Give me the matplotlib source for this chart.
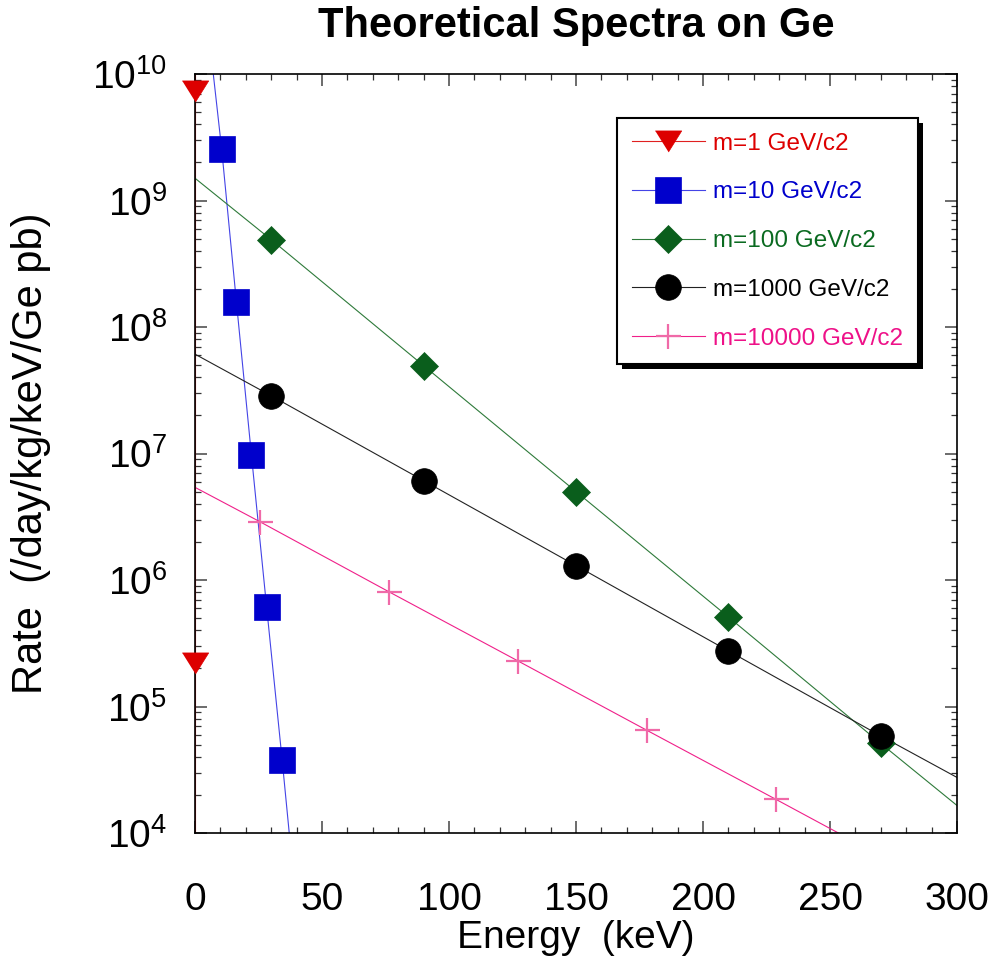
import math

import matplotlib
matplotlib.use("Agg")  # no display
import matplotlib.pyplot as plt
from matplotlib.lines import Line2D
from matplotlib.patches import Rectangle
from matplotlib.ticker import MultipleLocator, LogLocator, FuncFormatter, NullFormatter
from matplotlib.transforms import IdentityTransform

plt.rcParams["font.family"] = ["Liberation Sans", "DejaVu Sans"]
plt.rcParams["mathtext.fontset"] = "custom"
plt.rcParams["mathtext.rm"] = "Liberation Sans"
plt.rcParams["mathtext.it"] = "Liberation Sans:italic"
plt.rcParams["mathtext.bf"] = "Liberation Sans:bold"

# Energy (keV) / rate values.
# first and last entries are where each line leaves the frame (no marker there)
E_m1 = [0.0, 0.0, 0.0, 0.0]
rate_m1 = [2e10, 7.4e9, 2.2e5, 5e3]

E_m10 = [7.2, 10.5, 16.3, 22.2, 28.2, 34.3, 37.1]
rate_m10 = [1e10, 2.55e9, 1.58e8, 9.8e6, 6.1e5, 3.8e4, 1e4]

E_m100 = [0, 30, 90, 150, 210, 270, 300]
rate_m100 = [1.5e9, 4.9e8, 4.95e7, 5.0e6, 5.1e5, 5.1e4, 1.65e4]

E_m1000 = [0, 30, 90, 150, 210, 270, 300]
rate_m1000 = [6.1e7, 2.86e7, 6.1e6, 1.3e6, 2.75e5, 5.85e4, 2.75e4]

E_m10000 = [0, 25.4, 76.2, 127.0, 177.8, 228.6, 253.3]
rate_m10000 = [5.4e6, 2.9e6, 8.1e5, 2.3e5, 6.5e4, 1.85e4, 1.0e4]

labels = ["m=1 GeV/c2", "m=10 GeV/c2", "m=100 GeV/c2", "m=1000 GeV/c2", "m=10000 GeV/c2"]
xticks = [0, 50, 100, 150, 200, 250, 300]

TRI = [(-1, 0.8), (1, 0.8), (0, -0.8)]  # flat triangle pointing down

# (E, rate, line colour, marker, marker size, marker colour, text colour)
series = [
    (E_m1, rate_m1, "#e02020", TRI, 19, "#dd0000", "#dd0000"),
    (E_m10, rate_m10, "#4444e6", "s", 18.5, "#0000cc", "#0000cc"),
    (E_m100, rate_m100, "#2e7a3a", "D", 14.5, "#0a5e1c", "#0a6a20"),
    (E_m1000, rate_m1000, "#222222", "o", 18.5, "#000000", "#000000"),
    (E_m10000, rate_m10000, "#f0208a", "+", 18, "#f06aa8", "#ee1188"),
]

fig = plt.figure(figsize=(9.96, 9.67), dpi=100)
ax = fig.add_axes([195 / 996, 1 - 833 / 967, 762 / 996, 759 / 967])

handles = []
for E, r, lc, mk, ms, mc, tc in series:
    mew = 1.6 if mk == "+" else 0.5
    # line, clipped to the frame
    ax.plot(E, r, color=lc, lw=0.8)
    # markers, not clipped (the m=1 ones sit on the left edge)
    ax.plot(E[1:-1], r[1:-1], ls="none", marker=mk, markersize=ms,
            markerfacecolor=mc, markeredgecolor=mc, markeredgewidth=mew,
            clip_on=False, zorder=3)
    handles.append(Line2D([], [], color=lc, lw=0.8, marker=mk, markersize=ms,
                          markerfacecolor=mc, markeredgecolor=mc, markeredgewidth=mew))

ax.set_yscale("log")
ax.set_xlim(0, 300)
ax.set_ylim(1e4, 1e10)

ax.set_xticks(xticks)
ax.xaxis.set_minor_locator(MultipleLocator(10))
ax.yaxis.set_major_locator(LogLocator(base=10))
ax.yaxis.set_minor_locator(LogLocator(base=10, subs=range(2, 10)))
ax.yaxis.set_minor_formatter(NullFormatter())
ax.yaxis.set_major_formatter(FuncFormatter(
    lambda v, p: r"$\mathregular{10^{%d}}$" % round(math.log10(v))))

ax.tick_params(which="both", direction="in", top=True, right=True, colors="#000000")
ax.tick_params(which="major", length=8.6, width=1.1, color="#444444", labelsize=28)
ax.tick_params(which="minor", length=4.3, width=0.9, color="#333333")
ax.tick_params(axis="x", which="major", pad=35)
ax.tick_params(axis="y", which="major", pad=20)

for s in ax.spines.values():
    s.set_linewidth(1.2)
    s.set_color("black")

ax.set_title("Theoretical Spectra on Ge", fontsize=30, fontweight="bold", pad=27)
ax.set_xlabel("Energy  (keV)", fontsize=28)
ax.xaxis.set_label_coords(0.5, -(920 - 833) / 759)
ax.set_ylabel("Rate  (/day/kg/keV/Ge pb)", fontsize=30)
ax.yaxis.set_label_coords((51 - 195) / 762, 0.5)

leg = ax.legend(handles, labels, loc="upper right",
                bbox_to_anchor=(918 / 996, 1 - 118 / 967), bbox_transform=fig.transFigure,
                borderaxespad=0, fontsize=17.5, frameon=True, fancybox=False,
                edgecolor="black", framealpha=1, handlelength=3.0,
                handletextpad=0.35, labelspacing=1.1, borderpad=0.6, numpoints=1)
leg.get_frame().set_linewidth(1.5)
for t, item in zip(leg.get_texts(), series):
    t.set_color(item[6])

# black drop shadow, offset a few pixels down-right
fig.canvas.draw()
bb = leg.get_window_extent()
ax.add_patch(Rectangle((bb.x0 + 5, bb.y0 - 5), bb.width, bb.height,
                       transform=IdentityTransform(), facecolor="black",
                       edgecolor="none", zorder=4.9, clip_on=False))

fig.savefig("out.png", dpi=100)
